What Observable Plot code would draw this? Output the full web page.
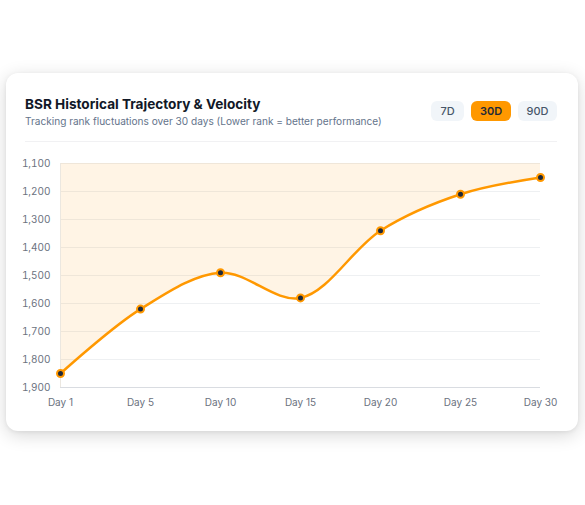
<!DOCTYPE html>
<html>
<head>
<meta charset="utf-8">
<script src="https://cdn.jsdelivr.net/npm/d3@7"></script>
<script src="https://cdn.jsdelivr.net/npm/@observablehq/plot@0.6"></script>
<style>
  html, body { margin: 0; padding: 0; background: #ffffff; font-family: Inter, "Noto Sans", sans-serif; }
  #card {
    position: absolute; left: 6px; top: 73px; width: 572px; height: 358px;
    background: #fff; border-radius: 12px;
    box-shadow: 0 4px 18px rgba(0,0,0,0.16), 0 1px 4px rgba(0,0,0,0.06);
  }
  #title { position: absolute; left: 19px; top: 23px; font-size: 13.6px; font-weight: 700; color: #111827; }
  #subtitle { position: absolute; left: 19px; top: 42px; font-size: 10.1px; color: #64748b; }
  #sep { position: absolute; left: 19px; right: 21px; top: 68px; height: 1px; background: #f1f1f3; }
  .btn { position: absolute; top: 28px; height: 20px; line-height: 20px; border-radius: 6px; font-size: 11px; font-weight: 500; text-align: center; background: #f1f5f9; color: #475569; }
  .btn.active { background: #ff9800; color: #1f2937; font-weight: 600; }
  #chart { position: absolute; left: 5px; top: 77px; }
</style>
</head>
<body>
<div id="card">
  <div id="title">BSR Historical Trajectory &amp; Velocity</div>
  <div id="subtitle">Tracking rank fluctuations over 30 days (Lower rank = better performance)</div>
  <div class="btn" style="left:425px;width:33px;">7D</div>
  <div class="btn active" style="left:465px;width:40px;">30D</div>
  <div class="btn" style="left:512px;width:39px;">90D</div>
  <div id="sep"></div>
  <div id="chart"></div>
</div>
<script>
const days = ["Day 1", "Day 5", "Day 10", "Day 15", "Day 20", "Day 25", "Day 30"];
const ranks = [1850, 1620, 1490, 1580, 1340, 1210, 1150];
const yTicks = [1100, 1200, 1300, 1400, 1500, 1600, 1700, 1800, 1900];

const data = days.map((d, i) => ({day: d, rank: ranks[i]}));
const orange = "#ff9800";

const chart = Plot.plot({
  width: 562,
  height: 265,
  marginTop: 13,
  marginLeft: 49,
  marginRight: 33,
  marginBottom: 28,
  style: {fontFamily: "Inter, 'Noto Sans', sans-serif", fontSize: "10px", color: "#6b7280", background: "transparent", overflow: "visible"},
  x: {type: "point", domain: days, padding: 0, label: null},
  y: {domain: [1100, 1900], reverse: true, label: null},
  marks: [
    Plot.gridY(yTicks, {stroke: "#eef0f2", strokeOpacity: 1}),
    Plot.areaY(data, {x: "day", y1: 1100, y2: "rank", curve: "catmull-rom", fill: orange, fillOpacity: 0.1}),
    Plot.ruleX([days[0]], {stroke: "#ebe7e0"}),
    Plot.ruleY([1900], {stroke: "#d9dce1"}),
    Plot.axisY(yTicks, {tickSize: 0, tickPadding: 10, tickFormat: d3.format(","), fill: "#6b7280"}),
    Plot.axisX(days, {tickSize: 0, tickPadding: 11, fill: "#6b7280"}),
    Plot.lineY(data, {x: "day", y: "rank", curve: "catmull-rom", stroke: orange, strokeWidth: 2.5}),
    Plot.dot(data, {x: "day", y: "rank", r: 3.5, fill: "#1e293b", stroke: orange, strokeWidth: 2})
  ]
});
document.getElementById("chart").appendChild(chart);
</script>
</body>
</html>
